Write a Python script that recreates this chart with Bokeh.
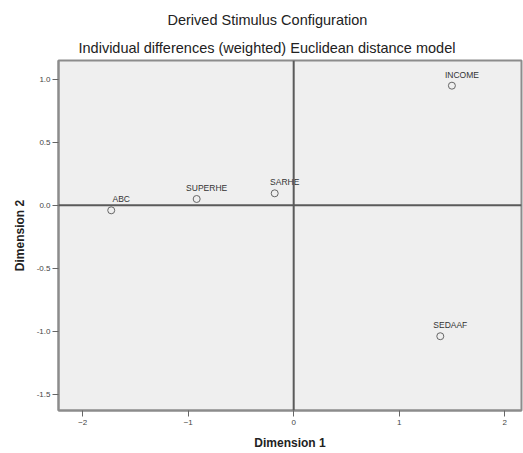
from bokeh.plotting import figure
from bokeh.models import Range1d, Span, Title, FixedTicker, ColumnDataSource
from bokeh.embed import file_html
from bokeh.resources import INLINE

# Data
stimuli = ["ABC", "SUPERHE", "SARHE", "INCOME", "SEDAAF"]
dim1 = [-1.73, -0.92, -0.18, 1.50, 1.39]
dim2 = [-0.04, 0.05, 0.095, 0.95, -1.04]
x_ticks = [-2, -1, 0, 1, 2]
y_ticks = [-1.5, -1.0, -0.5, 0.0, 0.5, 1.0]
y_tick_labels = ["-1.5", "-1.0", "-0.5", "0.0", "0.5", "1.0"]

FONT = "Liberation Sans"

p = figure(width=523, height=453, output_backend="svg", toolbar_location=None,
           x_range=Range1d(-2.23, 2.16), y_range=Range1d(-1.63, 1.15),
           min_border_left=58, min_border_right=2, min_border_top=60,
           min_border_bottom=43)
p.title = None
p.background_fill_color = "#efefef"
p.border_fill_color = "white"
p.outline_line_color = "#8c8c8c"
p.outline_line_width = 2
p.xgrid.visible = False
p.ygrid.visible = False

sub = Title(text="Individual differences (weighted) Euclidean distance model",
            align="left", offset=20, text_font=FONT, text_font_size="14.5px",
            text_font_style="normal", text_color="#222222", standoff=9)
main = Title(text="Derived Stimulus Configuration", align="left", offset=109,
             text_font=FONT, text_font_size="14.5px", text_font_style="normal",
             text_color="#222222", standoff=11)
p.add_layout(sub, "above")
p.add_layout(main, "above")

for ax in (p.xaxis[0], p.yaxis[0]):
    ax.axis_line_color = "#8c8c8c"
    ax.axis_line_width = 2
    ax.major_tick_line_color = "#666666"
    ax.major_tick_in = 0
    ax.major_tick_out = 6
    ax.minor_tick_line_color = None
    ax.major_label_text_font = FONT
    ax.major_label_text_font_size = "8px"
    ax.major_label_text_color = "#444444"
    ax.axis_label_text_font = FONT
    ax.axis_label_text_font_size = "12px"
    ax.axis_label_text_font_style = "bold"
    ax.axis_label_text_color = "#222222"

p.xaxis.ticker = FixedTicker(ticks=x_ticks)
p.yaxis.ticker = FixedTicker(ticks=y_ticks)
p.yaxis.major_label_overrides = {t: l for t, l in zip(y_ticks, y_tick_labels)}
p.xaxis.axis_label = "Dimension 1"
p.yaxis.axis_label = "Dimension 2"
p.xaxis.major_label_standoff = 3
p.yaxis.major_label_standoff = 2
p.xaxis.axis_label_standoff = 8
p.yaxis.axis_label_standoff = 7

p.add_layout(Span(location=0, dimension="width", line_color="#5a5a5a", line_width=2))
p.add_layout(Span(location=0, dimension="height", line_color="#5a5a5a", line_width=2))

src = ColumnDataSource(dict(x=dim1, y=dim2, name=stimuli))
p.scatter("x", "y", source=src, size=7, fill_color=None, line_color="#666666",
          line_width=1)
p.text("x", "y", text="name", source=src, x_offset=10, y_offset=-11,
       text_align="center", text_baseline="middle", text_font_size="8.5px",
       text_color="#333333", text_font={"value": FONT})

open("out.html", "w").write(file_html(p, INLINE))
